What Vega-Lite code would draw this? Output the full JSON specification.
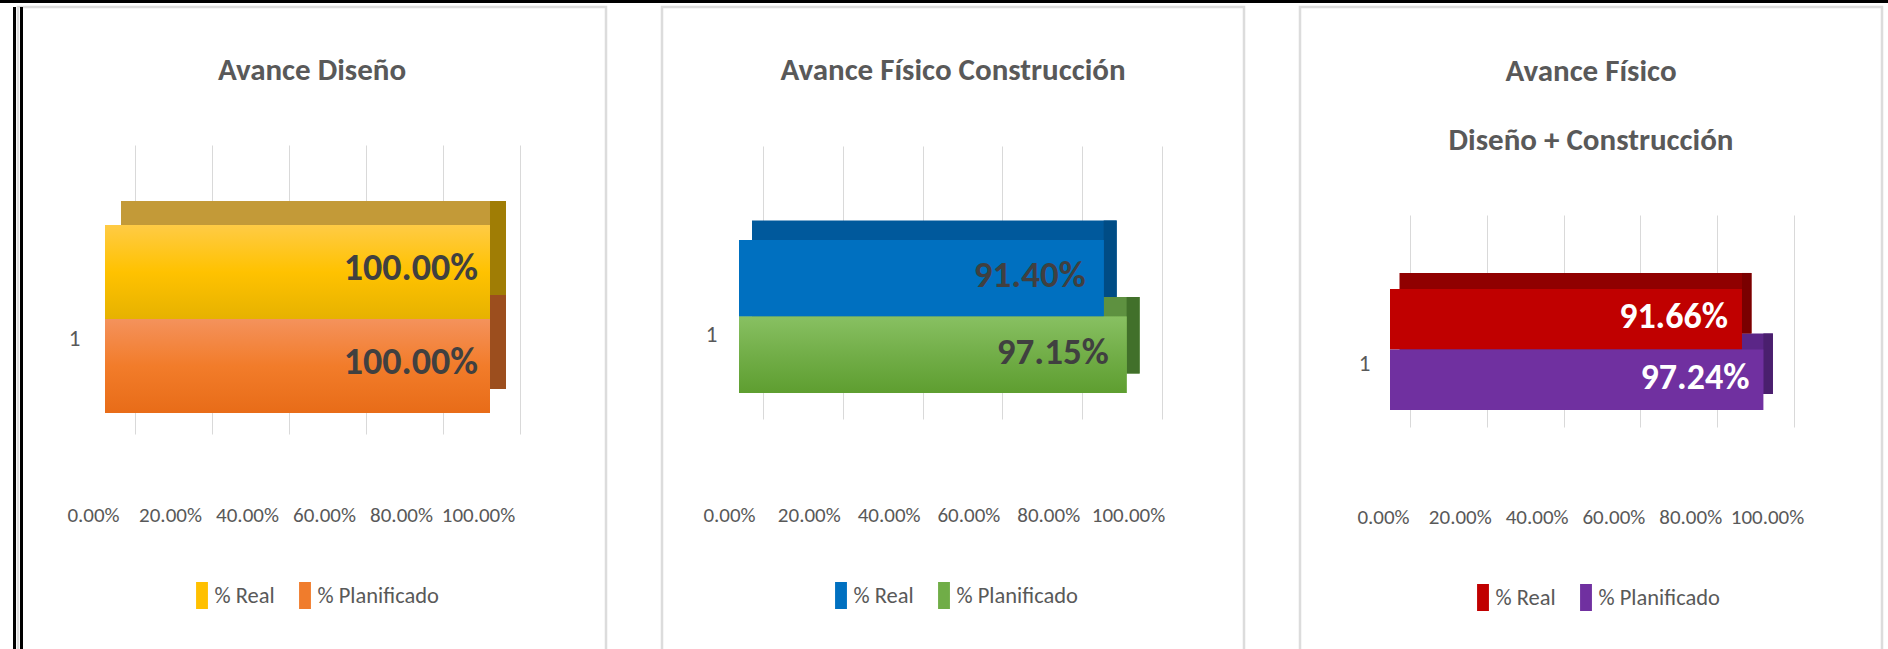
{
  "$schema": "https://vega.github.io/schema/vega-lite/v6.json",
  "background": "white",
  "padding": {"left": 0, "top": 0, "right": 0, "bottom": 0},
  "autosize": {"type": "pad"},
  "config": {"view": {"stroke": null}, "font": "Carlito, Liberation Sans Narrow, DejaVu Sans Condensed, sans-serif"},
  "datasets": {
    "d1": [{"cat": "1", "series": "% Real", "value": 1.0}, {"cat": "1", "series": "% Planificado", "value": 1.0}],
    "d2": [{"cat": "1", "series": "% Real", "value": 0.914}, {"cat": "1", "series": "% Planificado", "value": 0.9715}],
    "d3": [{"cat": "1", "series": "% Real", "value": 0.9166}, {"cat": "1", "series": "% Planificado", "value": 0.9724}]
  },
  "spacing": 4,
  "bounds": "flush",
  "resolve": {"scale": {"color": "independent"}},
  "vconcat": [
    {"width": 1888, "height": 3, "data": {"values": []}, "mark": "point", "encoding": {}, "view": {"fill": "black", "stroke": null}},
    {
      "spacing": 2,
      "bounds": "flush",
      "resolve": {"scale": {"color": "independent"}},
      "hconcat": [
        {"width": 11, "height": 645, "data": {"values": []}, "mark": "point", "encoding": {}, "view": {"stroke": null}},
        {"width": 3, "height": 645, "data": {"values": []}, "mark": "point", "encoding": {}, "view": {"fill": "black", "stroke": null}},
        {
          "spacing": 56,
          "bounds": "flush",
          "resolve": {"scale": {"color": "independent", "x": "independent", "y": "independent"}},
          "hconcat": [
            {
              "width": 588, "height": 645,
              "view": {"stroke": "#dcdcdc", "strokeWidth": 2.5},
              "data": {"name": "d1"},
              "title": {"text": "Avance Diseño", "anchor": "middle", "baseline": "middle", "offset": -95, "fontSize": 31, "fontWeight": "bold", "color": "#595959"},
              "encoding": {
                "x": {"field": "value", "type": "quantitative", "scale": {"domain": [0, 1], "range": [87, 472], "nice": false, "zero": true},
                  "axis": {"orient": "bottom", "values": [0, 0.2, 0.4, 0.6, 0.8, 1], "format": ".2%", "offset": -137, "domain": false, "ticks": false, "tickSize": 0, "labelPadding": 0, "labelBaseline": "middle", "tickOffset": 30, "labelOffset": -42, "grid": true, "gridColor": "#d9d9d9", "gridWidth": 1, "labelFontSize": 21, "labelColor": "#595959", "labelFlush": false, "labelOverlap": false, "labelBound": false, "title": null}},
                "y": {"field": "series", "type": "nominal", "sort": ["% Real", "% Planificado"], "scale": {"type": "band", "range": [218, 507], "paddingInner": 0, "paddingOuter": 0.537, "align": 0},
                  "axis": {"orient": "left", "offset": -62, "domain": false, "ticks": false, "tickSize": 0, "labelPadding": 0, "labelExpr": "datum.value === '% Real' ? '1' : ''", "labelOffset": 67, "labelFontSize": 23, "labelColor": "#595959", "labelBaseline": "middle", "grid": false, "title": null}}
              },
              "layer": [
                {"mark": {"type": "bar", "xOffset": 16, "x2Offset": 16, "yOffset": -24, "strokeWidth": 0},
                  "encoding": {"fill": {"condition": {"test": "datum.series === '% Real'", "value": "#C39A38"}, "value": "#B86A30"}}},
                {"mark": {"type": "bar", "x2Offset": 16, "yOffset": -24, "strokeWidth": 0},
                  "encoding": {"x2": {"field": "value"}, "fill": {"condition": {"test": "datum.series === '% Real'", "value": "#A07D05"}, "value": "#9C4E1E"}}},
                {"mark": {"type": "bar", "strokeWidth": 0},
                  "encoding": {"color": {"field": "series", "type": "nominal", "sort": ["% Real", "% Planificado"], "scale": {"domain": ["% Real", "% Planificado"], "range": ["#FFC000", "#F07C2C"]},
                    "legend": {"orient": "none", "legendX": 170.5, "legendY": 575, "direction": "horizontal", "title": null, "symbolType": "M-0.44,-1H0.44V1H-0.44Z", "symbolSize": 729, "symbolStrokeWidth": 0, "symbolOpacity": 1, "labelFontSize": 22.5, "labelColor": "#595959", "labelOffset": -1, "columnPadding": 16, "padding": 0}}}},
                {"mark": {"type": "bar", "strokeWidth": 0},
                  "encoding": {"fill": {"condition": {"test": "datum.series === '% Real'", "value": {"gradient": "linear", "x1": 0, "y1": 0, "x2": 0, "y2": 1, "stops": [{"offset": 0, "color": "#FFCB45"}, {"offset": 0.5, "color": "#FFC200"}, {"offset": 1, "color": "#E6B200"}]}},
                    "value": {"gradient": "linear", "x1": 0, "y1": 0, "x2": 0, "y2": 1, "stops": [{"offset": 0, "color": "#F4925C"}, {"offset": 0.5, "color": "#F27C2A"}, {"offset": 1, "color": "#E86C18"}]}}}},
                {"mark": {"type": "text", "align": "right", "baseline": "middle", "dx": -12, "dy": -3, "fontSize": 38, "fontWeight": "bold", "color": "#404040"},
                  "encoding": {"text": {"field": "value", "type": "quantitative", "format": ".2%"}}}
              ]
            },
            {
              "width": 582, "height": 645,
              "view": {"stroke": "#dcdcdc", "strokeWidth": 2.5},
              "data": {"name": "d2"},
              "title": {"text": "Avance Físico Construcción", "anchor": "middle", "baseline": "middle", "offset": -95, "fontSize": 31, "fontWeight": "bold", "color": "#595959"},
              "encoding": {
                "x": {"field": "value", "type": "quantitative", "scale": {"domain": [0, 1], "range": [77, 476], "nice": false, "zero": true},
                  "axis": {"orient": "bottom", "values": [0, 0.2, 0.4, 0.6, 0.8, 1], "format": ".2%", "offset": -137, "domain": false, "ticks": false, "tickSize": 0, "labelPadding": 0, "labelBaseline": "middle", "tickOffset": 24, "labelOffset": -34, "grid": true, "gridColor": "#d9d9d9", "gridWidth": 1, "labelFontSize": 21, "labelColor": "#595959", "labelFlush": false, "labelOverlap": false, "labelBound": false, "title": null}},
                "y": {"field": "series", "type": "nominal", "sort": ["% Real", "% Planificado"], "scale": {"type": "band", "range": [233, 506], "paddingInner": 0, "paddingOuter": 0.784, "align": 0},
                  "axis": {"orient": "left", "offset": -55, "domain": false, "ticks": false, "tickSize": 0, "labelPadding": 0, "labelExpr": "datum.value === '% Real' ? '1' : ''", "labelOffset": 57, "labelFontSize": 23, "labelColor": "#595959", "labelBaseline": "middle", "grid": false, "title": null}}
              },
              "layer": [
                {"mark": {"type": "bar", "xOffset": 13, "x2Offset": 13, "yOffset": -19.5, "strokeWidth": 0},
                  "encoding": {"fill": {"condition": {"test": "datum.series === '% Real'", "value": "#00599C"}, "value": "#5E9140"}}},
                {"mark": {"type": "bar", "x2Offset": 13, "yOffset": -19.5, "strokeWidth": 0},
                  "encoding": {"x2": {"field": "value"}, "fill": {"condition": {"test": "datum.series === '% Real'", "value": "#004C85"}, "value": "#41702A"}}},
                {"mark": {"type": "bar", "strokeWidth": 0},
                  "encoding": {"color": {"field": "series", "type": "nominal", "sort": ["% Real", "% Planificado"], "scale": {"domain": ["% Real", "% Planificado"], "range": ["#0070C0", "#70AD47"]},
                    "legend": {"orient": "none", "legendX": 165.5, "legendY": 575, "direction": "horizontal", "title": null, "symbolType": "M-0.44,-1H0.44V1H-0.44Z", "symbolSize": 729, "symbolStrokeWidth": 0, "symbolOpacity": 1, "labelFontSize": 22.5, "labelColor": "#595959", "labelOffset": -1, "columnPadding": 16, "padding": 0}}}},
                {"mark": {"type": "bar", "strokeWidth": 0},
                  "encoding": {"fill": {"condition": {"test": "datum.series === '% Real'", "value": "#0070C0"},
                    "value": {"gradient": "linear", "x1": 0, "y1": 0, "x2": 0, "y2": 1, "stops": [{"offset": 0, "color": "#88C062"}, {"offset": 0.5, "color": "#72AE48"}, {"offset": 1, "color": "#5E9E30"}]}}}},
                {"mark": {"type": "text", "align": "right", "baseline": "middle", "dx": -18, "dy": -2, "fontSize": 37, "fontWeight": "bold", "color": "#404040"},
                  "encoding": {"text": {"field": "value", "type": "quantitative", "format": ".2%"}}}
              ]
            },
            {
              "width": 582, "height": 645,
              "view": {"stroke": "#dcdcdc", "strokeWidth": 2.5},
              "data": {"name": "d3"},
              "title": {"text": ["Avance Físico", "Diseño + Construcción"], "lineHeight": 69, "anchor": "middle", "baseline": "middle", "offset": -164.5, "fontSize": 31, "fontWeight": "bold", "color": "#595959"},
              "encoding": {
                "x": {"field": "value", "type": "quantitative", "scale": {"domain": [0, 1], "range": [90, 474], "nice": false, "zero": true},
                  "axis": {"orient": "bottom", "values": [0, 0.2, 0.4, 0.6, 0.8, 1], "format": ".2%", "offset": -135, "domain": false, "ticks": false, "tickSize": 0, "labelPadding": 0, "labelBaseline": "middle", "tickOffset": 20, "labelOffset": -27, "grid": true, "gridColor": "#d9d9d9", "gridWidth": 1, "labelFontSize": 21, "labelColor": "#595959", "labelFlush": false, "labelOverlap": false, "labelBound": false, "title": null}},
                "y": {"field": "series", "type": "nominal", "sort": ["% Real", "% Planificado"], "scale": {"type": "band", "range": [225, 437], "paddingInner": 0, "paddingOuter": 0.752, "align": 0.626},
                  "axis": {"orient": "left", "offset": -70, "domain": false, "ticks": false, "tickSize": 0, "labelPadding": 0, "labelExpr": "datum.value === '% Real' ? '1' : ''", "labelOffset": 45, "labelFontSize": 23, "labelColor": "#595959", "labelBaseline": "middle", "grid": false, "title": null}}
              },
              "layer": [
                {"mark": {"type": "bar", "xOffset": 9.5, "x2Offset": 9.5, "yOffset": -16, "strokeWidth": 0},
                  "encoding": {"fill": {"condition": {"test": "datum.series === '% Real'", "value": "#900000"}, "value": "#5B2687"}}},
                {"mark": {"type": "bar", "x2Offset": 9.5, "yOffset": -16, "strokeWidth": 0},
                  "encoding": {"x2": {"field": "value"}, "fill": {"condition": {"test": "datum.series === '% Real'", "value": "#7A0000"}, "value": "#4A1F6E"}}},
                {"mark": {"type": "bar", "strokeWidth": 0},
                  "encoding": {"color": {"field": "series", "type": "nominal", "sort": ["% Real", "% Planificado"], "scale": {"domain": ["% Real", "% Planificado"], "range": ["#C00000", "#7030A0"]},
                    "legend": {"orient": "none", "legendX": 169.5, "legendY": 577, "direction": "horizontal", "title": null, "symbolType": "M-0.44,-1H0.44V1H-0.44Z", "symbolSize": 729, "symbolStrokeWidth": 0, "symbolOpacity": 1, "labelFontSize": 22.5, "labelColor": "#595959", "labelOffset": -1, "columnPadding": 16, "padding": 0}}}},
                {"mark": {"type": "text", "align": "right", "baseline": "middle", "dx": -14, "dy": -2, "fontSize": 36, "fontWeight": "bold", "color": "#FFFFFF"},
                  "encoding": {"text": {"field": "value", "type": "quantitative", "format": ".2%"}}}
              ]
            }
          ]
        },
        {"width": 3, "height": 645, "data": {"values": []}, "mark": "point", "encoding": {}, "view": {"fill": "black", "stroke": null}}
      ]
    }
  ]
}
